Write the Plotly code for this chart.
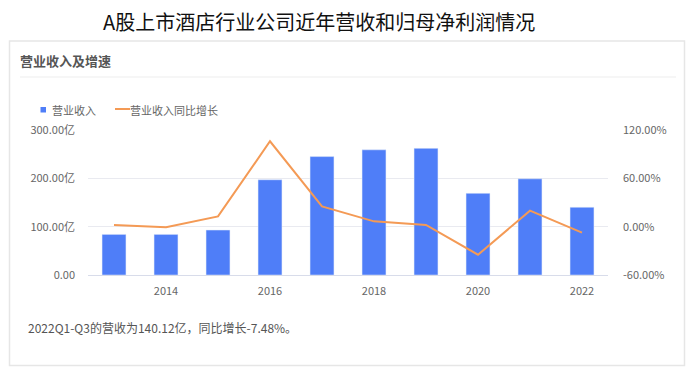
import plotly.graph_objects as go

years = [2013, 2014, 2015, 2016, 2017, 2018, 2019, 2020, 2021, 2022]
revenue = [84, 84, 93, 197, 245, 259, 262, 169, 199, 140.12]
growth = [2.1, -0.8, 12.8, 106.0, 25.2, 6.6, 2.1, -34.8, 19.9, -7.48]
x_ticks = [2014, 2016, 2018, 2020, 2022]
left_ticks = [0, 100, 200, 300]
left_text = ["0.00", "100.00亿", "200.00亿", "300.00亿"]
right_ticks = [-60, 0, 60, 120]
right_text = ["-60.00%", "0.00%", "60.00%", "120.00%"]

OFF = 8  # page body margin
W, H = 694 - OFF, 370 - OFF
L, R, T, B = 88, 608, 130, 275  # target page pixels

def px(x):
    return (x - L) / (R - L)

def py(y):
    return (B - y) / (B - T)

FONT = "Noto Sans CJK SC"
BAR_C = "#4F7EF8"
LINE_C = "#F49A55"
GRID_C = "#E9EAF0"
TICK_C = "#666666"

fig = go.Figure()
fig.add_trace(go.Bar(x=years, y=revenue, name="营业收入", marker_color=BAR_C,
                     width=0.46, yaxis="y"))
fig.add_trace(go.Scatter(x=years, y=growth, name="营业收入同比增长", mode="lines",
                         line=dict(color=LINE_C, width=2), yaxis="y2"))

fig.update_layout(
    width=W, height=H,
    margin=dict(l=L - OFF, r=W - (R - OFF), t=T - OFF, b=H - (B - OFF)),
    paper_bgcolor="white", plot_bgcolor="white",
    showlegend=False,
    font=dict(family=FONT, size=11, color=TICK_C),
    xaxis=dict(range=[2012.5, 2022.5], tickvals=x_ticks, ticktext=[str(v) for v in x_ticks],
               showgrid=False, zeroline=False, showline=True, linecolor="#D8DCEA",
               ticks="", ticklabelstandoff=6, tickfont=dict(size=11, color=TICK_C)),
    yaxis=dict(range=[0, 300], tickvals=left_ticks, ticktext=left_text,
               showgrid=True, gridcolor=GRID_C, zeroline=False, showline=False,
               ticklabelstandoff=12, tickfont=dict(size=11, color=TICK_C)),
    yaxis2=dict(range=[-60, 120], tickvals=right_ticks, ticktext=right_text,
                overlaying="y", side="right", showgrid=False, zeroline=False,
                showline=False, ticklabelstandoff=14, tickfont=dict(size=11, color=TICK_C)),
)

shapes = [
    # card
    dict(type="rect", xref="paper", yref="paper", x0=px(9.5), x1=px(684.5), y0=py(365.5), y1=py(41),
         line=dict(color="#E6E6E6", width=1.5), fillcolor="rgba(0,0,0,0)", layer="below"),
    # separator
    dict(type="line", xref="paper", yref="paper", x0=px(20), x1=px(676), y0=py(77), y1=py(77),
         line=dict(color="#EEEEEE", width=1.2)),
    # legend square
    dict(type="rect", xref="paper", yref="paper", x0=px(40.5), x1=px(46), y0=py(112.5), y1=py(107),
         line=dict(width=0), fillcolor=BAR_C),
    # legend line
    dict(type="line", xref="paper", yref="paper", x0=px(115), x1=px(130), y0=py(109), y1=py(109),
         line=dict(color=LINE_C, width=2)),
]
fig.update_layout(shapes=shapes)

annotations = [
    dict(text="A股上市酒店行业公司近年营收和归母净利润情况", x=px(319), y=py(21),
         xanchor="center", yanchor="middle", font=dict(size=20, color="#111111")),
    dict(text="<b>营业收入及增速</b>", x=px(19), y=py(61), xanchor="left", yanchor="middle",
         font=dict(size=13, color="#555555")),
    dict(text="营业收入", x=px(51), y=py(110), xanchor="left", yanchor="middle",
         font=dict(size=11, color="#666666")),
    dict(text="营业收入同比增长", x=px(129), y=py(110), xanchor="left", yanchor="middle",
         font=dict(size=11, color="#666666")),
    dict(text="2022Q1-Q3的营收为140.12亿，同比增长-7.48%。", x=px(27), y=py(327),
         xanchor="left", yanchor="middle", font=dict(size=12, color="#555555")),
]
for a in annotations:
    a.update(xref="paper", yref="paper", showarrow=False, borderpad=0)
fig.update_layout(annotations=annotations)

fig.write_html("out.html")
